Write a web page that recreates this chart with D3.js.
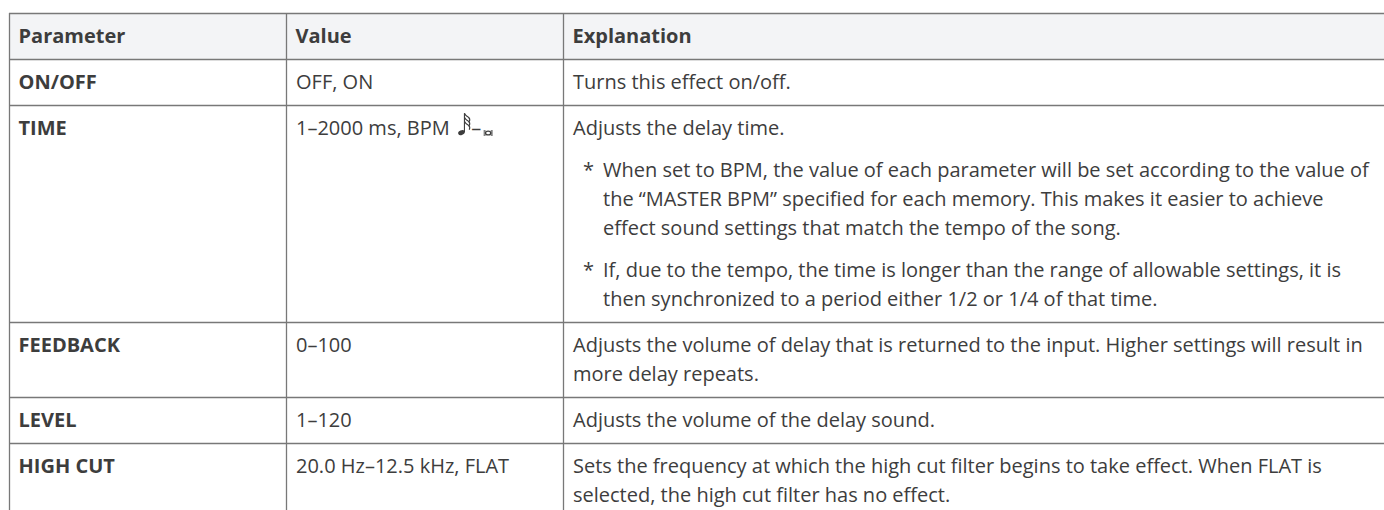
<!DOCTYPE html>
<html><head><meta charset="utf-8">
<script src="https://cdn.jsdelivr.net/npm/d3@7"></script>
<style>body{margin:0;background:#fff;overflow:hidden} svg{display:block}</style>
</head><body>
<svg id="c" width="1384" height="510"></svg>
<script>
// ---- data ----
const columns = ["Parameter", "Value", "Explanation"];
const parameters = ["ON/OFF", "TIME", "FEEDBACK", "LEVEL", "HIGH CUT"];
const values = ["OFF, ON", "1–2000 ms, BPM", "0–100", "1–120", "20.0 Hz–12.5 kHz, FLAT"];
const explanationOnOff = [
  { star: false, lines: ["Turns this effect on/off."] }
];
const explanationTime = [
  { star: false, lines: ["Adjusts the delay time."] },
  { star: true, lines: [
    "When set to BPM, the value of each parameter will be set according to the value of",
    "the “MASTER BPM” specified for each memory. This makes it easier to achieve",
    "effect sound settings that match the tempo of the song."] },
  { star: true, lines: [
    "If, due to the tempo, the time is longer than the range of allowable settings, it is",
    "then synchronized to a period either 1/2 or 1/4 of that time."] }
];
const explanationFeedback = [
  { star: false, lines: [
    "Adjusts the volume of delay that is returned to the input. Higher settings will result in",
    "more delay repeats."] }
];
const explanationLevel = [
  { star: false, lines: ["Adjusts the volume of the delay sound."] }
];
const explanationHighCut = [
  { star: false, lines: [
    "Sets the frequency at which the high cut filter begins to take effect. When FLAT is",
    "selected, the high cut filter has no effect."] }
];
const explanations = [explanationOnOff, explanationTime, explanationFeedback, explanationLevel, explanationHighCut];
const noteSuffix = "–"; // between the two note symbols in TIME value

// ---- layout ----
const svg = d3.select("#c");
const FONT = "'Open Sans', 'Noto Sans', sans-serif";
const TEXT = "#3d3d3d", LINE = "#787878", HEAD_BG = "#f3f4f6";
const tableTop = 13, headerH = 46, pad = 8.5, lineH = 29, paraGap = 13;
const x = d3.scaleOrdinal().domain(columns.concat(["end"])).range([9, 286, 563, 1400]);
const padX = 9;

// fit font size to the reference width of a known line
const probe = svg.append("text").attr("font-family", FONT).attr("font-size", 100).text(explanationOnOff[0].lines[0]);
const fs = 100 * 218 / probe.node().getComputedTextLength();
probe.remove();

// rows
const rows = parameters.map((p, i) => {
  const paras = explanations[i];
  const n = d3.sum(paras, d => d.lines.length);
  return { param: p, value: values[i], paras, h: 2 * pad + n * lineH + (paras.length - 1) * paraGap };
});
let yy = tableTop + headerH;
rows.forEach(r => { r.y = yy; yy += r.h; });

// header background
svg.append("rect").attr("x", x("Parameter")).attr("y", tableTop)
  .attr("width", x("end") - x("Parameter")).attr("height", headerH).attr("fill", HEAD_BG);

const g = svg.append("g").attr("font-family", FONT).attr("font-size", fs).attr("fill", TEXT);

// header text
g.selectAll("text.head").data(columns).join("text").attr("class", "head")
  .attr("x", d => x(d) + padX + 0.5).attr("y", tableTop + headerH / 2).attr("dy", "0.36em")
  .attr("font-weight", 700).text(d => d);

// body
rows.forEach((r, i) => {
  const cy = r.y + pad + lineH / 2;
  g.append("text").attr("x", x("Parameter") + padX + 0.5).attr("y", cy).attr("dy", "0.36em")
    .attr("font-weight", 700).text(r.param);
  const vt = g.append("text").attr("x", x("Value") + padX + 1).attr("y", cy).attr("dy", "0.36em").text(r.value);
  if (r.param === "TIME") {
    const bx = x("Value") + padX + 1 + vt.node().getComputedTextLength() + fs * 0.42;
    const by = cy + fs * 0.36; // baseline
    const note = svg.append("g").attr("fill", TEXT).attr("stroke", TEXT);
    // thirty-second note
    note.append("ellipse").attr("cx", bx + 3.3).attr("cy", by - 2.6).attr("rx", 3.4).attr("ry", 2.4)
      .attr("transform", `rotate(-24 ${bx + 3.3} ${by - 2.6})`).attr("stroke", "none");
    note.append("line").attr("x1", bx + 6.3).attr("y1", by - 3).attr("x2", bx + 6.3).attr("y2", by - 22).attr("stroke-width", 1.1);
    note.append("path").attr("fill", "none").attr("stroke-width", 1.1)
      .attr("d", [0, 4, 8].map(o => `M${bx + 6.3},${by - 22 + o} q1,2.5 4,4 q2.2,1.8 0.8,4.5`).join(" "));
    const dashX = bx + 13;
    const dt = g.append("text").attr("x", dashX).attr("y", cy).attr("dy", "0.36em").text(noteSuffix);
    const ex = dashX + dt.node().getComputedTextLength() + 2;
    // breve (double whole note), small
    const br = svg.append("g").attr("fill", "none").attr("stroke", TEXT);
    br.append("ellipse").attr("cx", ex + 5).attr("cy", by - 2.2).attr("rx", 2.6).attr("ry", 1.9).attr("stroke-width", 1.3);
    [ex + 1, ex + 1.9, ex + 8.1, ex + 9].forEach(vx =>
      br.append("line").attr("x1", vx).attr("x2", vx).attr("y1", by - 5.2).attr("y2", by + 0.8).attr("stroke-width", 0.7));
  }
  let ly = cy;
  r.paras.forEach((p, pi) => {
    if (pi > 0) ly += paraGap;
    p.lines.forEach((ln, li) => {
      const tx = x("Explanation") + padX + 1 + (p.star ? 30 : 0);
      if (p.star && li === 0) {
        g.append("text").attr("x", x("Explanation") + padX + 11).attr("y", ly).attr("dy", "0.36em").text("*");
      }
      g.append("text").attr("x", tx).attr("y", ly).attr("dy", "0.36em").text(ln);
      ly += lineH;
    });
  });
});

// grid lines
const hLines = [tableTop, tableTop + headerH].concat(rows.map(r => r.y + r.h));
svg.append("g").selectAll("line").data(hLines).join("line")
  .attr("x1", x("Parameter")).attr("x2", x("end"))
  .attr("y1", d => Math.round(d) + 0.5).attr("y2", d => Math.round(d) + 0.5)
  .attr("stroke", LINE).attr("stroke-width", 1.3);
const bottom = rows[rows.length - 1].y + rows[rows.length - 1].h;
svg.append("g").selectAll("line").data(columns).join("line")
  .attr("x1", d => x(d) + 0.5).attr("x2", d => x(d) + 0.5)
  .attr("y1", tableTop).attr("y2", bottom)
  .attr("stroke", LINE).attr("stroke-width", 1.3);
</script>
</body></html>
